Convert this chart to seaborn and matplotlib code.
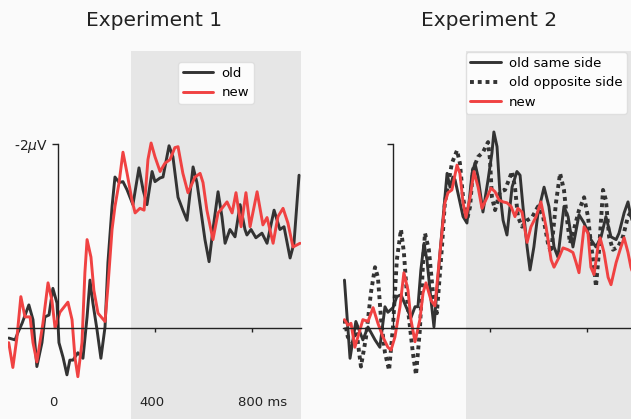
import numpy as np
import matplotlib
matplotlib.use('Agg')
import matplotlib.pyplot as plt
import seaborn as sns

# Experiment 1 (ms, microvolts; negative is up)
exp1_old_t = [-203, -177, -165, -148, -120, -103, -87, -66, -54, -37, -21, -4, 4, 21, 37, 49,
              62, 82, 103, 120, 132, 144, 161, 177, 194, 206, 223, 235, 252, 268, 285, 309,
              334, 351, 367, 388, 400, 421, 433, 458, 474, 495, 515, 532, 557, 573, 590, 606,
              623, 639, 660, 676, 689, 709, 730, 751, 771, 779, 796, 816, 841, 862, 891, 915,
              932, 957, 973, 994]
exp1_old_v = [0.11, 0.13, 0.05, -0.05, -0.25, -0.09, 0.42, 0.16, -0.12, -0.14, -0.43, -0.27,
              0.16, 0.32, 0.51, 0.35, 0.35, 0.27, 0.33, -0.12, -0.52, -0.27, 0.02, 0.33, -0.01,
              -0.71, -1.32, -1.64, -1.58, -1.59, -1.50, -1.34, -1.74, -1.50, -1.34, -1.70, -1.59,
              -1.63, -1.64, -1.98, -1.86, -1.42, -1.28, -1.17, -1.75, -1.58, -1.26, -0.96, -0.72,
              -1.07, -1.48, -1.21, -0.92, -1.07, -0.99, -1.34, -1.07, -1.01, -1.07, -0.98, -1.03,
              -0.92, -1.28, -1.07, -1.10, -0.76, -0.92, -1.66]

exp1_new_t = [-203, -186, -169, -153, -136, -115, -103, -87, -62, -41, -25, -12, 8, 41, 58, 70,
              82, 99, 111, 120, 136, 148, 165, 194, 206, 223, 235, 252, 268, 285, 305, 318,
              338, 355, 371, 384, 400, 421, 441, 462, 482, 495, 515, 536, 565, 586, 598, 614,
              639, 660, 676, 697, 718, 734, 755, 775, 792, 821, 845, 862, 887, 907, 928, 948,
              969, 998]
exp1_new_v = [0.16, 0.43, 0.10, -0.34, -0.12, -0.12, 0.16, 0.37, -0.05, -0.49, -0.30, 0.00,
              -0.17, -0.28, -0.09, 0.32, 0.53, 0.16, -0.60, -0.96, -0.77, -0.41, -0.16, -0.07,
              -0.45, -1.07, -1.32, -1.58, -1.91, -1.68, -1.39, -1.25, -1.30, -1.28, -1.83, -2.01,
              -1.86, -1.70, -1.79, -1.83, -1.96, -1.97, -1.68, -1.47, -1.64, -1.68, -1.58, -1.28,
              -0.96, -1.25, -1.30, -1.37, -1.25, -1.47, -1.10, -1.47, -1.10, -1.48, -1.12, -1.20,
              -0.92, -1.21, -1.30, -1.14, -0.88, -0.92]

# Experiment 2
exp2_same_t = [-200, -177, -153, -124, -103, -74, -54, -33, -21, 0, 16, 33, 54, 74, 91, 103,
               115, 128, 140, 157, 169, 194, 223, 235, 247, 256, 289, 305, 326, 338, 351, 371,
               392, 408, 416, 429, 441, 454, 470, 491, 511, 524, 536, 553, 565, 581, 598, 623,
               643, 664, 680, 705, 722, 742, 767, 788, 816, 837, 858, 878, 899, 920, 932, 953,
               969, 981, 1000]
exp2_same_v = [-0.52, 0.33, -0.07, 0.13, -0.01, 0.13, 0.21, -0.23, -0.17, -0.22, -0.34, -0.36,
               -0.23, -0.11, -0.23, -0.23, -0.63, -0.92, -0.74, -0.30, -0.01, -0.82, -1.68, -1.53,
               -1.64, -1.61, -1.21, -1.14, -1.68, -1.79, -1.64, -1.26, -1.61, -1.90, -2.13, -1.97,
               -1.47, -1.17, -1.01, -1.53, -1.70, -1.66, -1.32, -0.88, -0.63, -0.88, -1.25, -1.53,
               -1.32, -0.88, -0.77, -1.32, -1.21, -0.88, -1.23, -1.14, -0.96, -0.88, -0.99, -1.21,
               -0.99, -0.96, -1.03, -1.25, -1.37, -1.21, -1.05]

exp2_opp_t = [-200, -186, -165, -153, -132, -111, -91, -74, -62, -49, -33, -16, 0, 16, 33, 45,
              62, 82, 95, 111, 124, 132, 148, 165, 181, 202, 214, 243, 264, 276, 289, 305,
              318, 330, 351, 371, 392, 400, 408, 421, 441, 462, 491, 503, 515, 532, 553, 573,
              598, 619, 639, 652, 672, 689, 705, 718, 730, 746, 767, 788, 804, 816, 829, 837,
              849, 866, 878, 891, 907, 928, 948, 969, 981, 1000]
exp2_opp_v = [-0.09, 0.10, 0.16, -0.01, 0.42, 0.10, -0.38, -0.66, -0.55, -0.09, 0.27, 0.46,
              -0.01, -0.74, -1.07, -0.82, -0.20, 0.27, 0.51, 0.02, -0.71, -1.03, -0.85, -0.38,
              -0.16, -0.88, -1.36, -1.79, -1.93, -1.79, -1.42, -1.17, -1.32, -1.72, -1.86, -1.91,
              -2.02, -1.83, -1.42, -1.28, -1.48, -1.50, -1.70, -1.53, -1.21, -1.10, -1.17, -1.20,
              -1.32, -1.21, -0.92, -0.82, -1.36, -1.68, -1.50, -1.17, -0.92, -1.07, -1.28, -1.42,
              -1.21, -0.92, -0.66, -0.45, -0.82, -1.50, -1.39, -0.99, -0.85, -0.88, -0.99, -1.21,
              -1.26, -1.20]

exp2_new_t = [-200, -186, -173, -157, -136, -124, -103, -82, -62, -41, -21, -8, 8, 29, 45, 62,
              74, 91, 111, 124, 136, 157, 173, 194, 214, 227, 243, 264, 276, 289, 301, 318,
              334, 351, 367, 388, 404, 421, 437, 454, 470, 487, 503, 515, 532, 553, 569, 590,
              610, 631, 652, 664, 685, 701, 722, 742, 755, 767, 788, 804, 816, 829, 845, 854,
              870, 887, 899, 920, 940, 953, 969, 981, 1000]
exp2_new_v = [-0.09, -0.03, -0.05, 0.21, 0.02, -0.09, -0.07, -0.22, -0.05, 0.10, 0.21, 0.24,
              0.10, -0.23, -0.60, -0.41, -0.09, 0.15, -0.09, -0.38, -0.49, -0.30, -0.24, -0.82,
              -1.36, -1.47, -1.50, -1.77, -1.68, -1.36, -1.20, -1.42, -1.70, -1.53, -1.30, -1.42,
              -1.52, -1.48, -1.39, -1.37, -1.36, -1.32, -1.21, -1.30, -1.26, -0.93, -1.10, -1.21,
              -1.37, -1.10, -0.74, -0.66, -0.77, -0.87, -0.85, -0.82, -0.71, -0.60, -1.10, -1.03,
              -0.66, -0.58, -0.88, -0.98, -0.82, -0.55, -0.47, -0.71, -0.88, -0.98, -0.82, -0.66,
              -0.50]

BLACK = '#333333'
RED = '#f04242'
SHADE = '#e6e6e6'

fig = plt.figure(figsize=(6.31, 4.19), dpi=100, facecolor='#fafafa')
ax1 = fig.add_axes([8 / 631, 0, 293 / 631, 368 / 419])
ax2 = fig.add_axes([343 / 631, 0, 293 / 631, 368 / 419])


def style_axis(ax, ylabel):
    ax.set_facecolor('none')
    ax.set_xlim(-206, 1002)
    ax.set_ylim(0.99, -3.01)
    ax.axvspan(300, 1002, color=SHADE, zorder=0, lw=0)
    for s in ['top', 'right']:
        ax.spines[s].set_visible(False)
    ax.spines['left'].set_position(('data', 0))
    ax.spines['left'].set_bounds(-2, 0)
    ax.spines['bottom'].set_position(('data', 0))
    for s in ['left', 'bottom']:
        ax.spines[s].set_color('#222222')
        ax.spines[s].set_linewidth(1.0)
    ax.set_yticks([-2])
    ax.set_yticklabels([ylabel])
    ax.set_xticks([400, 800])
    ax.set_xticklabels(['', ''])
    ax.tick_params(axis='y', length=4.5, width=1, pad=3, labelsize=10, colors='#222222')
    ax.tick_params(axis='x', length=3, width=1, direction='out', colors='#222222')
    ax.set_xlabel('')
    ax.set_ylabel('')


solid = dict(lw=2.1, solid_joinstyle='round', solid_capstyle='round')

sns.lineplot(x=exp1_old_t, y=exp1_old_v, color=BLACK, label='old', ax=ax1, **solid)
sns.lineplot(x=exp1_new_t, y=exp1_new_v, color=RED, label='new', ax=ax1, **solid)
style_axis(ax1, r'-2$\mu$V')
for x, lab, ha in [(-20, '0', 'center'), (388, '400', 'center'), (742, '800 ms', 'left')]:
    ax1.text(x, 0.81, lab, ha=ha, va='center', fontsize=9.5, color='#222222')
ax1.legend(loc='upper center', bbox_to_anchor=(0.71, 0.97), borderaxespad=0,
           fontsize=9.5, handlelength=2.3, handletextpad=0.6, borderpad=0.35,
           edgecolor='#dddddd', framealpha=0.9)

sns.lineplot(x=exp2_same_t, y=exp2_same_v, color=BLACK, label='old same side', ax=ax2, **solid)
sns.lineplot(x=exp2_opp_t, y=exp2_opp_v, color=BLACK, lw=2.8, label='old opposite side',
             ax=ax2, linestyle=(0, (1, 1)), dash_capstyle='butt', dash_joinstyle='round')
sns.lineplot(x=exp2_new_t, y=exp2_new_v, color=RED, label='new', ax=ax2, **solid)
style_axis(ax2, '')
ax2.legend(loc='upper left', bbox_to_anchor=(0.419, 0.997), borderaxespad=0,
           fontsize=9.5, handlelength=2.3, handletextpad=0.6, borderpad=0.35,
           edgecolor='#dddddd', framealpha=0.9)

fig.text(154 / 631, 1 - 20 / 419, 'Experiment 1', ha='center', va='center', fontsize=14.5,
         color='#222222')
fig.text(489 / 631, 1 - 20 / 419, 'Experiment 2', ha='center', va='center', fontsize=14.5,
         color='#222222')

fig.savefig('out.png', dpi=100, facecolor=fig.get_facecolor())
